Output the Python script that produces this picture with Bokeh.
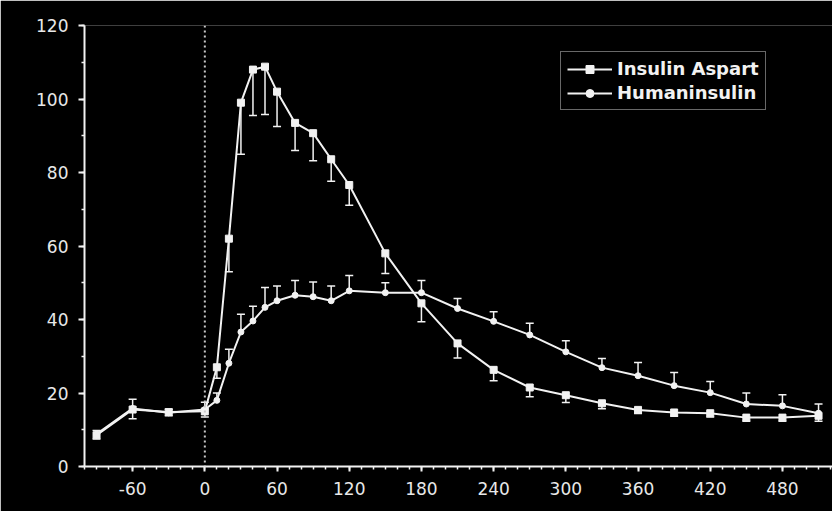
from bokeh.plotting import figure
from bokeh.models import (ColumnDataSource, Whisker, TeeHead, Span, Legend, LegendItem,
                          FixedTicker, Range1d, PrintfTickFormatter)
from bokeh.embed import file_html
from bokeh.resources import INLINE

# ---- data ----
time = [-90, -60, -30, 0, 10, 20, 30, 40, 50, 60, 75, 90, 105, 120, 150, 180,
        210, 240, 270, 300, 330, 360, 390, 420, 450, 480, 510]

aspart = [8.5, 15.5, 14.8, 15.0, 27.0, 62.0, 99.0, 108.0, 108.8, 102.0, 93.5, 90.7,
          83.6, 76.6, 58.0, 44.4, 33.5, 26.3, 21.5, 19.4, 17.2, 15.4, 14.7, 14.5,
          13.3, 13.3, 13.8]
aspart_err = [1.0, 2.5, 1.0, 1.5, 3.0, 9.0, 14.0, 12.5, 13.0, 9.5, 7.5, 7.5,
              6.0, 5.5, 5.5, 5.0, 4.0, 3.0, 2.5, 2.0, 1.5, 1.0, 1.0, 1.0,
              1.0, 1.0, 1.5]

human = [8.8, 15.8, 14.6, 15.5, 18.0, 28.1, 36.6, 39.6, 43.3, 45.1, 46.6, 46.2,
         45.1, 47.8, 47.3, 47.3, 43.0, 39.5, 35.8, 31.2, 26.9, 24.7, 22.0, 20.1,
         17.0, 16.5, 14.5]
human_err = [1.0, 2.5, 1.0, 2.0, 2.0, 3.8, 4.8, 4.0, 5.4, 4.0, 4.0, 4.0,
             4.0, 4.2, 2.7, 3.3, 2.7, 2.6, 3.2, 3.0, 2.5, 3.6, 3.6, 3.0,
             3.0, 3.0, 2.5]

x_ticks = [-60, 0, 60, 120, 180, 240, 300, 360, 420, 480]
y_ticks = [0, 20, 40, 60, 80, 100, 120]

labels = ["Insulin Aspart", "Humaninsulin"]

# ---- sources ----
src_a = ColumnDataSource(dict(
    t=time, v=aspart,
    lo=[v - e for v, e in zip(aspart, aspart_err)],
    hi=aspart))
src_h = ColumnDataSource(dict(
    t=time, v=human,
    lo=human,
    hi=[v + e for v, e in zip(human, human_err)]))

p = figure(width=832, height=511, output_backend="svg", toolbar_location=None,
           x_range=Range1d(-100, 521.6), y_range=Range1d(0, 120),
           min_border_left=84, min_border_right=0, min_border_top=25,
           min_border_bottom=45)

p.background_fill_color = "black"
p.border_fill_color = "black"
p.outline_line_color = None
p.grid.visible = False

# dotted line at time 0
p.add_layout(Span(location=0, dimension="height", line_color="#c8c8c8",
                  line_width=2, line_dash="2 3"))

WHITE = "#f2f2f2"

# error bars
wa = Whisker(source=src_a, base="t", lower="lo", upper="hi", dimension="height",
             line_color=WHITE, line_width=1.5,
             lower_head=TeeHead(size=8, line_color=WHITE, line_width=1.5),
             upper_head=None)
wh = Whisker(source=src_h, base="t", lower="lo", upper="hi", dimension="height",
             line_color=WHITE, line_width=1.5,
             upper_head=TeeHead(size=8, line_color=WHITE, line_width=1.5),
             lower_head=None)
p.add_layout(wa)
p.add_layout(wh)

la = p.line("t", "v", source=src_a, line_color=WHITE, line_width=2)
sa = p.scatter("t", "v", source=src_a, marker="square", size=7,
               fill_color=WHITE, line_color=WHITE)
lh = p.line("t", "v", source=src_h, line_color=WHITE, line_width=2)
sh = p.scatter("t", "v", source=src_h, marker="circle", size=6,
               fill_color=WHITE, line_color=WHITE)

# axes
for ax in (p.xaxis[0], p.yaxis[0]):
    ax.axis_line_color = WHITE
    ax.axis_line_width = 2
    ax.major_tick_line_color = WHITE
    ax.major_tick_line_width = 2
    ax.minor_tick_line_color = WHITE
    ax.minor_tick_line_width = 1.5
    ax.major_tick_in = 0
    ax.minor_tick_in = 0
    ax.major_label_text_color = "#e8e8e8"
    ax.major_label_text_font = "DejaVu Sans"
    ax.major_label_text_font_size = "17px"
    ax.formatter = PrintfTickFormatter(format="%d")

p.xaxis.ticker = FixedTicker(ticks=x_ticks, minor_ticks=list(range(-100, 530, 10)))
p.yaxis.ticker = FixedTicker(ticks=y_ticks, minor_ticks=list(range(0, 121, 10)))
p.xaxis.major_tick_out = 5
p.xaxis.minor_tick_out = 3
p.xaxis.major_label_standoff = 10
p.yaxis.major_tick_out = 6
p.yaxis.minor_tick_out = 3
p.yaxis.major_label_standoff = 10

legend = Legend(items=[LegendItem(label=labels[0], renderers=[la, sa]),
                       LegendItem(label=labels[1], renderers=[lh, sh])],
                location=(476, 356))
legend.background_fill_color = "black"
legend.background_fill_alpha = 1
legend.border_line_color = "#d0d0d0"
legend.border_line_width = 1.5
legend.label_text_color = WHITE
legend.label_text_font = "DejaVu Sans"
legend.label_text_font_style = "bold"
legend.label_text_font_size = "18px"
legend.label_height = 20
legend.glyph_height = 20
legend.glyph_width = 45
legend.label_standoff = 5
legend.spacing = 3
legend.padding = 6
legend.margin = 0
p.add_layout(legend)

open("out.html", "w").write(file_html(p, INLINE))
